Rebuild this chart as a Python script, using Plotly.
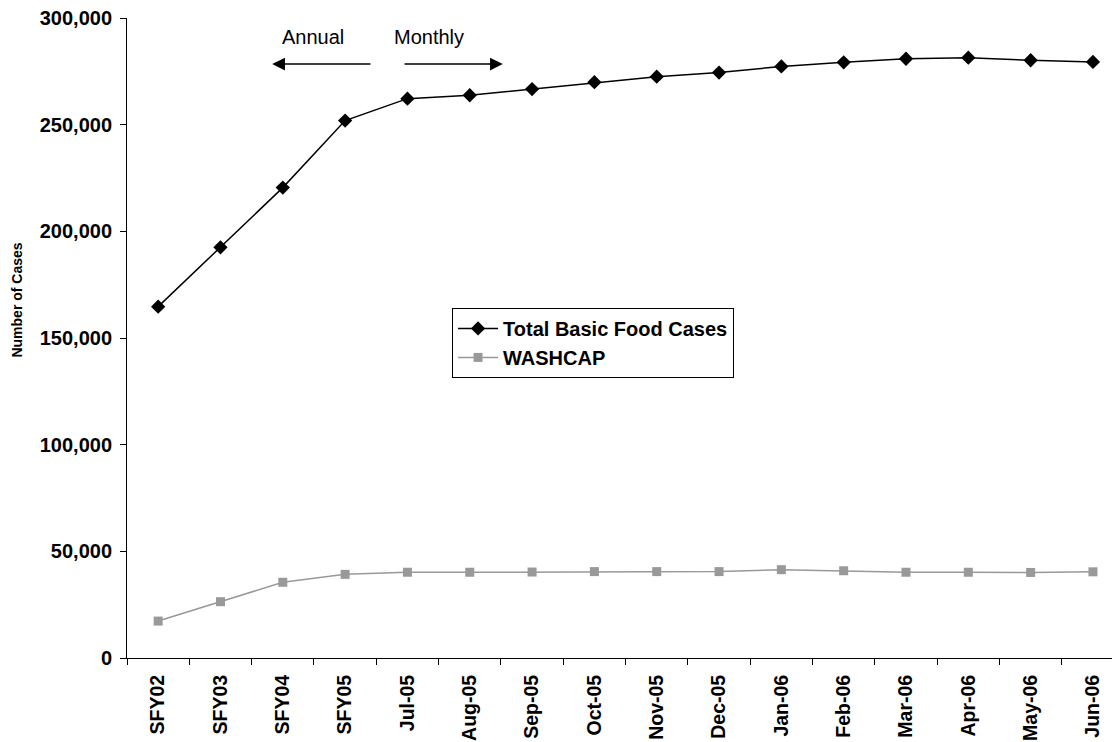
import plotly.graph_objects as go

categories = ["SFY02", "SFY03", "SFY04", "SFY05", "Jul-05", "Aug-05", "Sep-05", "Oct-05",
              "Nov-05", "Dec-05", "Jan-06", "Feb-06", "Mar-06", "Apr-06", "May-06", "Jun-06"]
total_basic_food = [164700, 192500, 220500, 251900, 262200, 263800, 266700, 269900,
                    272500, 274400, 277300, 279200, 280900, 281400, 280200, 279400]
washcap = [17300, 26400, 35500, 39200, 40200, 40200, 40300, 40500,
           40500, 40500, 41400, 40900, 40200, 40200, 40100, 40400]
y_ticks = [0, 50000, 100000, 150000, 200000, 250000, 300000]

FONT = "Liberation Sans, Arial, sans-serif"
NARROW = "Liberation Sans Narrow, Arial Narrow, Liberation Sans, sans-serif"

fig = go.Figure()
fig.add_trace(go.Scatter(
    x=categories, y=total_basic_food, name="Total Basic Food Cases",
    mode="lines+markers",
    line=dict(color="black", width=1.5),
    marker=dict(symbol="diamond", size=11, color="black"),
))
fig.add_trace(go.Scatter(
    x=categories, y=washcap, name="WASHCAP",
    mode="lines+markers",
    line=dict(color="#999999", width=1.5),
    marker=dict(symbol="square", size=9, color="#999999"),
))

annotations = [
    dict(x=2.49, y=291000, xref="x", yref="y", text="Annual", showarrow=False,
         font=dict(family=FONT, size=20, color="black")),
    dict(x=4.35, y=291000, xref="x", yref="y", text="Monthly", showarrow=False,
         font=dict(family=FONT, size=20, color="black")),
    dict(x=1.83, y=278400, ax=3.43, ay=278400, xref="x", yref="y", axref="x", ayref="y",
         text="", showarrow=True, arrowhead=2, arrowsize=1.7, arrowwidth=1.5, arrowcolor="black"),
    dict(x=5.53, y=278400, ax=3.93, ay=278400, xref="x", yref="y", axref="x", ayref="y",
         text="", showarrow=True, arrowhead=2, arrowsize=1.7, arrowwidth=1.5, arrowcolor="black"),
    dict(x=-0.1107, y=0.56, xref="paper", yref="paper", text="<b>Number of Cases</b>",
         textangle=-90, showarrow=False, xanchor="center", yanchor="middle",
         font=dict(family=NARROW, size=14, color="black")),
]

fig.update_layout(
    width=1120, height=742,
    margin=dict(l=119, r=7, t=10, b=92, autoexpand=False),
    paper_bgcolor="white", plot_bgcolor="white",
    font=dict(family=FONT, size=20, color="black"),
    showlegend=True,
    legend=dict(x=0.327, y=0.547, xanchor="left", yanchor="top",
                bordercolor="black", borderwidth=1, bgcolor="white",
                font=dict(family=FONT, size=20, color="black", weight="bold"),
                tracegroupgap=0, itemwidth=40),
    annotations=annotations,
)
fig.update_xaxes(
    type="category", range=[-0.5, 15.45], automargin=False,
    showline=True, linecolor="black", linewidth=1,
    ticks="outside", ticklen=6, tickcolor="black", tickson="boundaries",
    tickangle=-90, showgrid=False, zeroline=False, ticklabelstandoff=8,
    tickfont=dict(family=FONT, size=19.5, color="black", weight="bold"),
)
fig.update_yaxes(
    range=[0, 300000], tickvals=y_ticks, tickformat=",", automargin=False,
    showline=True, linecolor="black", linewidth=1,
    ticks="outside", ticklen=6, tickcolor="black",
    showgrid=False, zeroline=False, ticklabelstandoff=4, ticklabeloverflow="allow",
    tickfont=dict(family=FONT, size=20, color="black", weight="bold"),
)

fig.write_html("out.html")
